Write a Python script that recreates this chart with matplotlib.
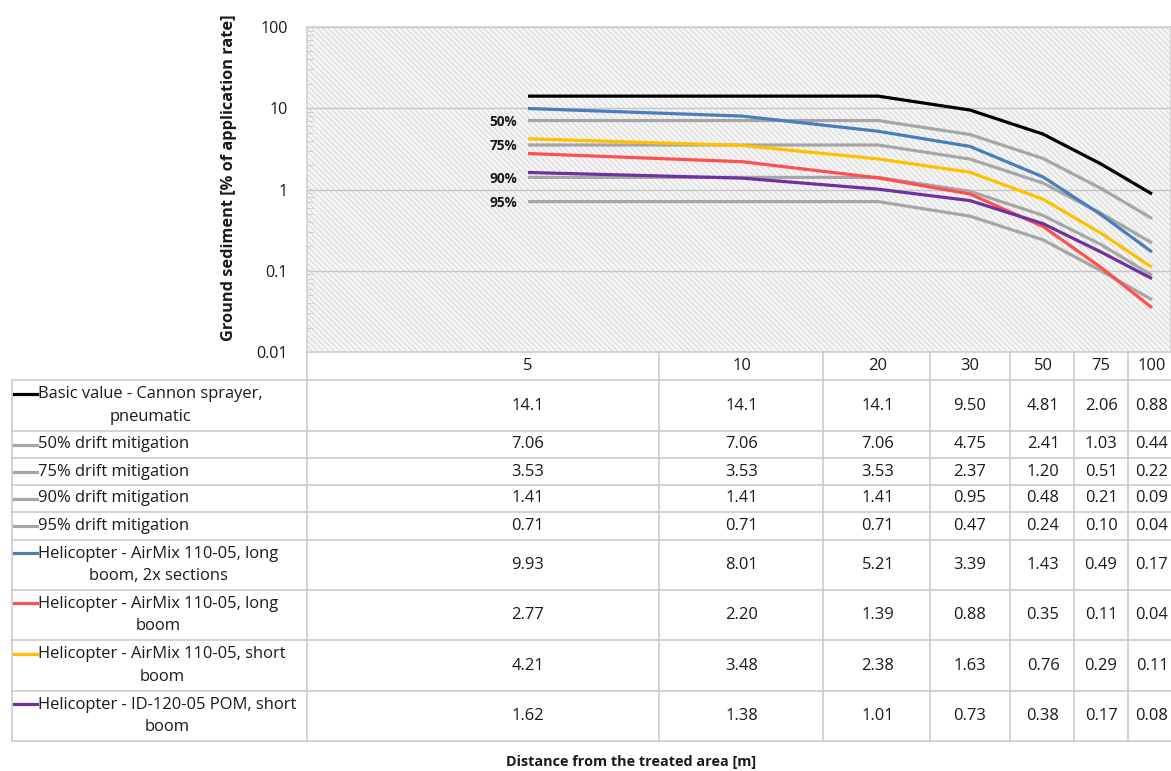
import numpy as np
import matplotlib
matplotlib.use("Agg")
import matplotlib.pyplot as plt
import matplotlib.transforms as mtransforms
from matplotlib.patches import Rectangle
from matplotlib.lines import Line2D

plt.rcParams['font.family'] = ['Open Sans', 'DejaVu Sans']
plt.rcParams['hatch.linewidth'] = 0.6

# data
distances = [5, 10, 20, 30, 50, 75, 100]
basic = [14.1, 14.1, 14.1, 9.50, 4.81, 2.06, 0.88]
mit50 = [7.06, 7.06, 7.06, 4.75, 2.41, 1.03, 0.44]
mit75 = [3.53, 3.53, 3.53, 2.37, 1.20, 0.51, 0.22]
mit90 = [1.41, 1.41, 1.41, 0.95, 0.48, 0.21, 0.088]
mit95 = [0.71, 0.71, 0.71, 0.47, 0.24, 0.10, 0.044]
heli_long_2x = [9.93, 8.01, 5.21, 3.39, 1.43, 0.49, 0.17]
heli_long = [2.77, 2.20, 1.39, 0.88, 0.35, 0.11, 0.035]
heli_short = [4.21, 3.48, 2.38, 1.63, 0.76, 0.29, 0.11]
heli_pom = [1.62, 1.38, 1.01, 0.73, 0.38, 0.17, 0.08]

series_labels = ["Basic value - Cannon sprayer,\npneumatic",
                 "50% drift mitigation", "75% drift mitigation",
                 "90% drift mitigation", "95% drift mitigation",
                 "Helicopter - AirMix 110-05, long\nboom, 2x sections",
                 "Helicopter - AirMix 110-05, long\nboom",
                 "Helicopter - AirMix 110-05, short\nboom",
                 "Helicopter - ID-120-05 POM, short\nboom"]
series_values = [basic, mit50, mit75, mit90, mit95,
                 heli_long_2x, heli_long, heli_short, heli_pom]
mitigation_tags = ["50%", "75%", "90%", "95%"]

# style / layout
GRAY = '#a6a6a6'
colors = ['#000000', GRAY, GRAY, GRAY, GRAY, '#4a7ebb', '#ff5050', '#ffc000', '#7030a0']
W, H = 1171, 771
col_edges = [307, 659, 823, 930, 1010, 1074, 1128, 1171]   # table column borders (px)
anchor_px = [528, 742, 878, 970, 1043, 1101, 1152]          # category positions on x axis (px)
row_edges = [380, 431, 458, 485, 512, 540, 590, 640, 691, 741]
GRID = '#c8c8c8'
TXT = '#1a1a1a'
FS = 11.9

fig = plt.figure(figsize=(W / 100, H / 100), dpi=100)
px = mtransforms.Affine2D().scale(1 / W, -1 / H).translate(0, 1) + fig.transFigure

ax = fig.add_axes([307 / W, (H - 352) / H, (W - 307) / W, 325 / H])


def fwd(d):
    d = np.asarray(d, dtype=float)
    out = np.interp(d, distances, anchor_px)
    lo = (anchor_px[1] - anchor_px[0]) / (distances[1] - distances[0])
    hi = (anchor_px[-1] - anchor_px[-2]) / (distances[-1] - distances[-2])
    out = np.where(d < distances[0], anchor_px[0] + (d - distances[0]) * lo, out)
    out = np.where(d > distances[-1], anchor_px[-1] + (d - distances[-1]) * hi, out)
    return out


def inv(p):
    p = np.asarray(p, dtype=float)
    out = np.interp(p, anchor_px, distances)
    lo = (distances[1] - distances[0]) / (anchor_px[1] - anchor_px[0])
    hi = (distances[-1] - distances[-2]) / (anchor_px[-1] - anchor_px[-2])
    out = np.where(p < anchor_px[0], distances[0] + (p - anchor_px[0]) * lo, out)
    out = np.where(p > anchor_px[-1], distances[-1] + (p - anchor_px[-1]) * hi, out)
    return out


ax.set_xscale('function', functions=(fwd, inv))
ax.set_xlim(inv(307), inv(1171))
ax.set_yscale('log')
ax.set_ylim(0.01, 100)

# hatched background
ax.set_facecolor('#f5f5f5')
ax.add_patch(Rectangle((0, 0), 1, 1, transform=ax.transAxes, facecolor='#f5f5f5',
                       edgecolor='#d4d4d4', hatch='\\\\\\\\\\\\', lw=0, zorder=0))
ax.grid(True, axis='y', which='major', color='#c6c6c6', lw=1, zorder=1)
for s in ax.spines.values():
    s.set_color('#d0d0d0')
    s.set_linewidth(1.2)

ax.set_xticks([])
ax.set_yticks([0.01, 0.1, 1, 10, 100])
ax.set_yticklabels(['0.01', '0.1', '1', '10', '100'])
ax.tick_params(axis='y', which='major', direction='in', length=5, color='#c8c8c8',
               labelsize=11.6, pad=14, labelcolor=TXT)
ax.tick_params(axis='y', which='minor', direction='in', length=4, color='#c8c8c8')

for vals, c in zip(series_values, colors):
    ax.plot(distances, vals, color=c, lw=2.3, solid_capstyle='butt', zorder=3)

# mitigation tags at the start of the gray lines
for tag, vals in zip(mitigation_tags, series_values[1:5]):
    ax.annotate(tag, (distances[0], vals[0]), xytext=(-8, -1), textcoords='offset points',
                ha='right', va='center', fontsize=9.8, fontweight='bold', color=TXT)

# axis titles
fig.text(229 / W, 1 - 178 / H, "Ground sediment [% of application rate]", rotation=90,
         ha='center', va='center', fontsize=11.8, fontweight='bold', color=TXT)
fig.text(631 / W, 1 - 762 / H, "Distance from the treated area [m]",
         ha='center', va='center', fontsize=10.4, fontweight='bold', color=TXT)

# data table
lines = []
for y in row_edges:
    lines.append(([12, W], [y, y]))
lines.append(([12, 12], [row_edges[0], row_edges[-1]]))
for x in col_edges[:-1]:
    lines.append(([x, x], [352, row_edges[-1]]))
for xs, ys in lines:
    fig.add_artist(Line2D(xs, ys, transform=px, color=GRID, lw=1.1))

xtab = mtransforms.blended_transform_factory(ax.transData, px)
for d in distances:
    fig.text(d, 366, str(d), transform=xtab, ha='center', va='center',
             fontsize=FS, color=TXT)

for i, (lab, vals, c) in enumerate(zip(series_labels, series_values, colors)):
    top, bot = row_edges[i], row_edges[i + 1]
    yc = (top + bot) / 2
    nlines = lab.count('\n') + 1
    first_y = yc - (nlines - 1) * 12
    fig.add_artist(Line2D([14, 37], [first_y, first_y], transform=px, color=c, lw=2.3))
    fig.text(38, yc, lab, transform=px, ha='left', va='center', multialignment='center',
             fontsize=FS, color=TXT, linespacing=1.56)
    for d, v in zip(distances, vals):
        txt = f"{v:.1f}" if v >= 10 else f"{v:.2f}"
        fig.text(d, yc, txt, transform=xtab, ha='center', va='center',
                 fontsize=FS, color=TXT)

fig.savefig('out.png', dpi=100)
